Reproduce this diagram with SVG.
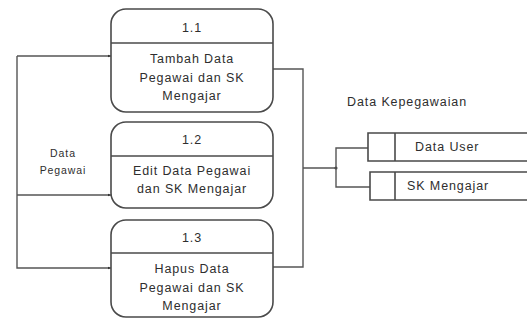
<svg xmlns="http://www.w3.org/2000/svg" width="527" height="320" viewBox="0 0 527 320">
  <defs>
    <style>
      .proc { fill: #ffffff; stroke: #4a4a4a; stroke-width: 1.6; }
      .div { stroke: #4a4a4a; stroke-width: 1.6; fill: none; }
      .flow { stroke: #555555; stroke-width: 1.4; fill: none; }
      .store { stroke: #4a4a4a; stroke-width: 1.6; fill: #ffffff; }
      .t { font-family: "Liberation Sans", Arial, sans-serif; font-size: 12.5px; fill: #2e2e2e; letter-spacing: 0.9px; }
      .c { text-anchor: middle; }
      .s { font-size: 10.5px; letter-spacing: 0.9px; }
    </style>
    <marker id="arr" markerWidth="4" markerHeight="4" refX="3.5" refY="2" orient="auto" markerUnits="userSpaceOnUse">
      <path d="M0,0.5 L3.5,2 L0,3.5 Z" fill="#333333"/>
    </marker>
    <marker id="dot" markerWidth="4" markerHeight="4" refX="2" refY="2" markerUnits="userSpaceOnUse">
      <circle cx="2" cy="2" r="1.5" fill="#333333"/>
    </marker>
  </defs>
  <rect width="527" height="320" fill="#ffffff"/>

  <g id="connectors">
    <path class="flow" d="M17,56 V268 H111" marker-end="url(#arr)"/>
    <path class="flow" d="M17,56 H111" marker-end="url(#arr)"/>
    <path class="flow" d="M17,195 H111" marker-end="url(#arr)"/>
    <path class="flow" d="M273,69 H303 V267 H273"/>
    <path class="flow" d="M303,168 H336" marker-end="url(#dot)"/>
    <path class="flow" d="M368,148 H336 V187 H370"/>
    <text class="t s c" x="63" y="157">Data</text>
    <text class="t s c" x="63" y="174">Pegawai</text>
    <text class="t" x="347" y="106">Data Kepegawaian</text>
  </g>

  <g id="p11">
    <rect class="proc" x="111" y="9" width="162" height="103" rx="15"/>
    <line class="div" x1="111" y1="43" x2="273" y2="43"/>
    <text class="t c" x="192" y="32">1.1</text>
    <text class="t c" x="192" y="63">Tambah Data</text>
    <text class="t c" x="192" y="82">Pegawai dan SK</text>
    <text class="t c" x="192" y="100">Mengajar</text>
  </g>

  <g id="p12">
    <rect class="proc" x="111" y="122" width="162" height="86" rx="15"/>
    <line class="div" x1="111" y1="156" x2="273" y2="156"/>
    <text class="t c" x="192" y="144">1.2</text>
    <text class="t c" x="192" y="175">Edit Data Pegawai</text>
    <text class="t c" x="192" y="193">dan SK Mengajar</text>
  </g>

  <g id="p13">
    <rect class="proc" x="111" y="220" width="162" height="97" rx="15"/>
    <line class="div" x1="111" y1="253" x2="273" y2="253"/>
    <text class="t c" x="192" y="242">1.3</text>
    <text class="t c" x="192" y="273">Hapus Data</text>
    <text class="t c" x="192" y="292">Pegawai dan SK</text>
    <text class="t c" x="192" y="310">Mengajar</text>
  </g>

  <g id="ds1">
    <path class="store" d="M530,133 H368 V161 H530"/>
    <line class="div" x1="395" y1="133" x2="395" y2="161"/>
    <text class="t" x="415" y="151">Data User</text>
  </g>

  <g id="ds2">
    <path class="store" d="M530,172 H370 V200 H530"/>
    <line class="div" x1="395" y1="172" x2="395" y2="200"/>
    <text class="t" x="407" y="190">SK Mengajar</text>
  </g>
</svg>
